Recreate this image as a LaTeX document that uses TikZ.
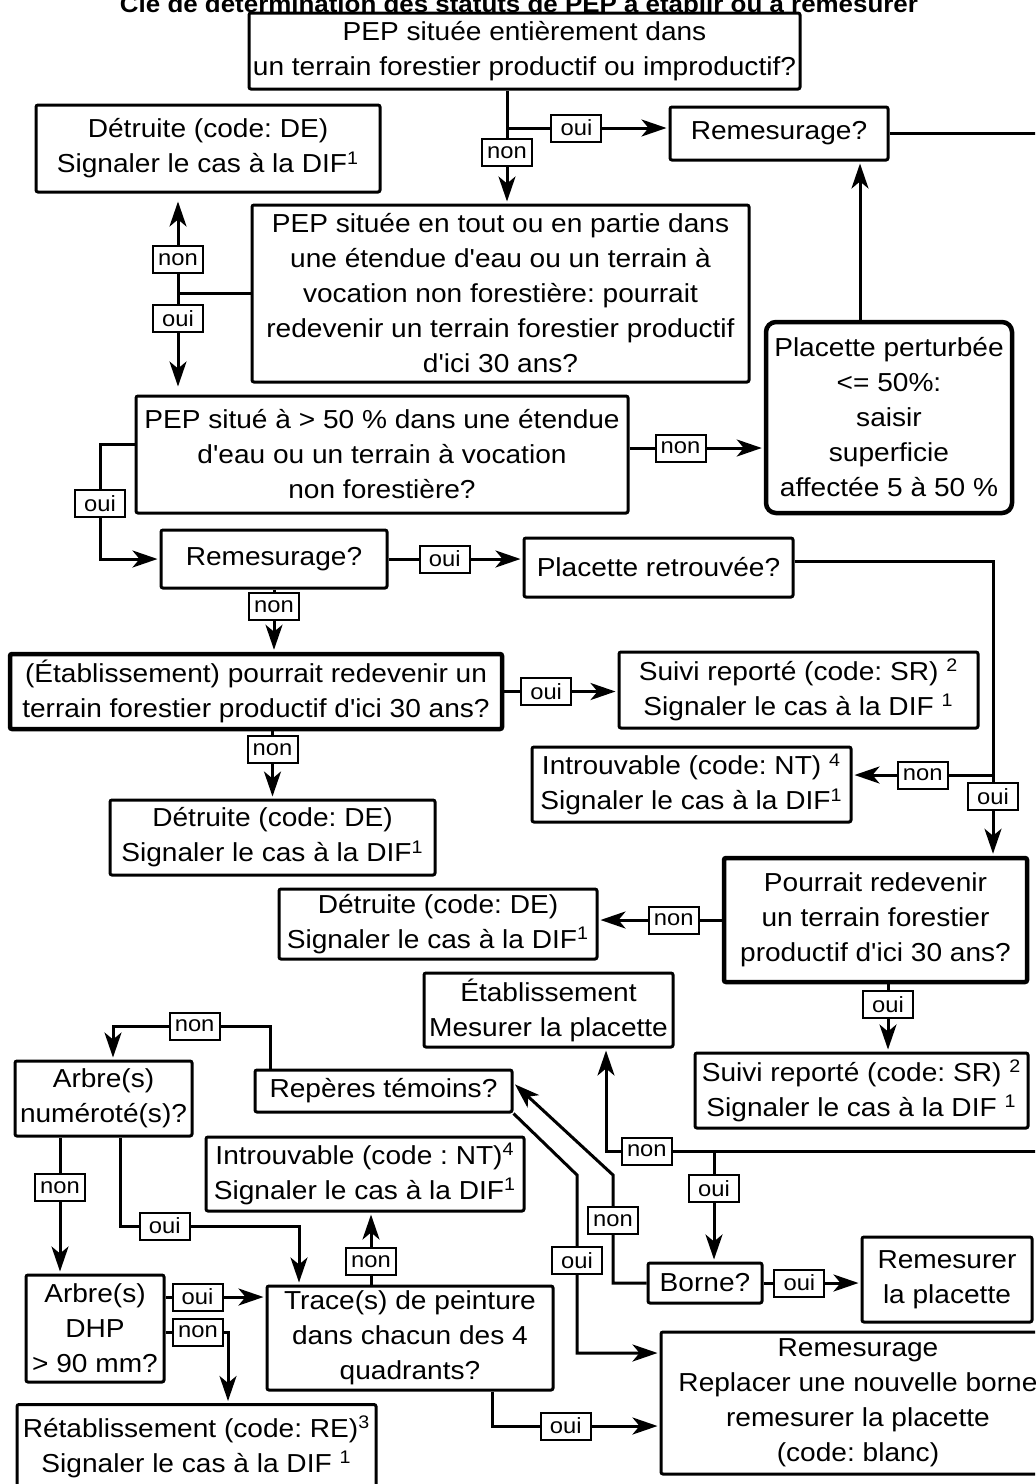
\documentclass[tikz,border=0pt]{standalone}
\usepackage{fontspec}
\setmainfont{Liberation Sans}[Ligatures=TeXOff, FakeStretch=1.08]
\usetikzlibrary{arrows.meta}
\frenchspacing

\begin{document}
\begin{tikzpicture}[
        x = 0.5pt, y = -0.5pt,
        box/.style = {
            draw,
            line width = 1.5pt,
            rounded corners = 1pt,
            align = center,
            inner sep = 0pt,
            font = \fontsize{13}{17.5}\selectfont
        },
        heavy/.style = {box, line width = 2.25pt},
        wh/.style 2 args = {minimum width = #1*0.5pt, minimum height = #2*0.5pt},
        lab/.style = {
            draw,
            fill = white,
            line width = 1pt,
            inner sep = 0pt,
            minimum width = 25pt,
            minimum height = 13.5pt,
            font = \fontsize{11}{12}\selectfont
        },
        wire/.style = {line width = 1.5pt},
        arr/.style = {wire, -{Stealth[length=12.5pt, width=8.5pt, inset=3.5pt]}, shorten >= 1pt}
    ]
    \useasboundingbox (0,0) rectangle (1035,1484);
    \clip (0,0) rectangle (1035,1484);

    \node[anchor=base, font=\fontsize{12}{14}\selectfont\bfseries] (title) at (519,12)
        {Clé de détermination des statuts de PEP à établir ou à remesurer};

    % boxes
    \node[box, wh={551}{76}] (n1) at (524.5,51) {PEP située entièrement dans\\un terrain forestier productif ou improductif?};
    \node[box, wh={218}{53}] (remes1) at (779,133.5) {Remesurage?};
    \node[box, wh={344}{87}] (de1) at (208,148.5) {Détruite (code: DE)\\Signaler le cas à la DIF\textsuperscript{1}};
    \node[box, wh={497}{177}] (eau) at (500.5,293.5) {PEP située en tout ou en partie dans\\une étendue d'eau ou un terrain à\\vocation non forestière: pourrait\\redevenir un terrain forestier productif\\d'ici 30 ans?};
    \node[box, wh={492}{117}] (half) at (382,454.5) {PEP situé à > 50 \% dans une étendue\\d'eau ou un terrain à vocation\\non forestière?};
    \node[heavy, rounded corners=5pt, wh={246}{191}] (pert) at (889,417.5) {Placette perturbée\\<= 50\%:\\saisir\\superficie\\affectée 5 à 50 \%};
    \node[box, wh={226}{58}] (remes2) at (274,559) {Remesurage?};
    \node[box, wh={269}{59}] (retr) at (658.5,567.5) {Placette retrouvée?};
    \node[heavy, wh={492}{75}] (etab) at (256,691.5) {(Établissement) pourrait redevenir un\\terrain forestier productif d'ici 30 ans?};
    \node[box, wh={359}{76}] (sr1) at (798.5,690) {Suivi reporté (code: SR) \textsuperscript{2}\\Signaler le cas à la DIF \textsuperscript{1}};
    \node[box, wh={319}{75}] (nt1) at (691.5,784.5) {Introuvable (code: NT) \textsuperscript{4}\\Signaler le cas à la DIF\textsuperscript{1}};
    \node[box, wh={325}{75}] (de2) at (272.5,837.5) {Détruite (code: DE)\\Signaler le cas à la DIF\textsuperscript{1}};
    \node[heavy, wh={303}{124}] (pourr) at (875.5,920) {Pourrait redevenir\\un terrain forestier\\productif d'ici 30 ans?};
    \node[box, wh={318}{70}] (de3) at (438,924) {Détruite (code: DE)\\Signaler le cas à la DIF\textsuperscript{1}};
    \node[box, wh={249}{74}] (mes) at (548.5,1010) {Établissement\\Mesurer la placette};
    \node[box, wh={333}{75}] (sr2) at (861.5,1090.5) {Suivi reporté (code: SR) \textsuperscript{2}\\Signaler le cas à la DIF \textsuperscript{1}};
    \node[box, wh={177}{75}] (arbre) at (103.5,1098.5) {Arbre(s)\\numéroté(s)?};
    \node[box, wh={257}{42}] (rep) at (383.5,1091) {Repères témoins?};
    \node[box, wh={318}{74}] (nt2) at (365,1174) {Introuvable (code : NT)\textsuperscript{4}\\Signaler le cas à la DIF\textsuperscript{1}};
    \node[box, wh={138}{107}] (dhp) at (95,1328.5) {Arbre(s)\\DHP\\> 90 mm?};
    \node[box, wh={286}{104}] (trace) at (410,1338) {Trace(s) de peinture\\dans chacun des 4\\quadrants?};
    \node[box, wh={114}{40}] (borne) at (705,1283) {Borne?};
    \node[box, wh={170}{85}] (remesurer) at (947,1279.5) {Remesurer\\la placette};
    \node[box, wh={394}{142}] (remesfin) at (858,1403) {Remesurage\\Replacer une nouvelle borne\\remesurer la placette\\(code: blanc)};
    \node[box, wh={359}{85}] (retab) at (196.5,1447) {Rétablissement (code: RE)\textsuperscript{3}\\Signaler le cas à la DIF \textsuperscript{1}};

    % connectors
    \coordinate (j1) at (507,128);
    \draw[arr] (n1.south -| j1) -- node[lab, pos=0.55] {non} (eau.north -| j1);
    \draw[arr] (j1) -- node[lab, pos=0.43] {oui} (j1 -| remes1.west);
    \coordinate (e1) at (1045,133.5);
    \draw[wire] (remes1.east) -- (e1);

    \coordinate (k4) at (860,240);
    \draw[arr] (pert.north -| k4) -- (remes1.south -| k4);

    \coordinate (j3) at (178,293.5);
    \draw[wire] (eau.west) -- (j3);
    \draw[arr, shorten >= 4pt] (j3) -- node[lab, pos=0.34] {non} (de1.south -| j3);
    \draw[arr, shorten >= 4pt] (j3) -- node[lab, pos=0.25] {oui} (half.north -| j3);

    \coordinate (j4) at (100,444);
    \draw[arr] (half.west |- j4) -- (j4) |- node[lab, pos=0.26] {oui} (remes2.west);
    \coordinate (j5) at (700,448);
    \draw[arr] (half.east |- j5) -- node[lab, pos=0.38] {non} (pert.west |- j5);

    \draw[arr] (remes2.east) -- node[lab, pos=0.42] {oui} (remes2.east -| retr.west);
    \draw[arr] (remes2.south) -- node[lab, pos=0.27] {non} (remes2.south |- etab.north);
    \draw[arr] (etab.east) -- node[lab, pos=0.37] {oui} (etab.east -| sr1.west);
    \draw[arr] (de2.north |- etab.south) -- node[lab, pos=0.27] {non} (de2.north);

    \coordinate (j6a) at (993,561.5);
    \coordinate (j6) at (993,775);
    \draw[arr] (retr.east |- j6a) -- (j6a) -- node[lab, pos=0.8] {oui} (pourr.north -| j6);
    \draw[arr] (j6) -- node[lab, pos=0.5] {non} (nt1.east |- j6);

    \draw[arr] (pourr.west) -- node[lab, pos=0.39] {non} (pourr.west -| de3.east);
    \coordinate (j7) at (888,1000);
    \draw[arr] (pourr.south -| j7) -- node[lab, pos=0.3] {oui} (sr2.north -| j7);

    \coordinate (e2) at (1045,1151);
    \coordinate (j8) at (606,1151);
    \coordinate (j9) at (714,1151);
    \draw[arr] (e2) -- node[lab, pos=0.907] {non} (j8) -- (mes.south -| j8);
    \draw[arr] (j9) -- node[lab, pos=0.34] {oui} (borne.north -| j9);
    \draw[arr] (borne.east) -- node[lab, pos=0.37] {oui} (borne.east -| remesurer.west);

    \coordinate (j10) at (613,1175);
    \coordinate (j10b) at (600,1083);
    \draw[arr] (borne.west) -| node[lab, pos=0.79] {non} (j10) -- (rep.east |- j10b);

    \coordinate (j11) at (577,1175);
    \coordinate (j12) at (600,1353);
    \draw[arr] (rep.south east) -- (j11) |- node[lab, pos=0.24] {oui} (remesfin.west |- j12);

    \coordinate (j13) at (492,1426);
    \draw[arr] (trace.south -| j13) |- node[lab, pos=0.72] {oui} (remesfin.west |- j13);

    \coordinate (j14) at (270,1026);
    \coordinate (j15) at (113,1026);
    \draw[arr] (rep.north -| j14) -- (j14) -- node[lab, pos=0.48] {non} (j15) -- (arbre.north -| j15);

    \coordinate (j16) at (60,1200);
    \draw[arr] (arbre.south -| j16) -- node[lab, pos=0.37] {non} (dhp.north -| j16);

    \coordinate (j17) at (120,1226);
    \coordinate (j18) at (299,1226);
    \draw[arr] (arbre.south -| j17) -- (j17) -- node[lab, pos=0.25] {oui} (j18) -- (trace.north -| j18);

    \coordinate (j21) at (200,1297);
    \coordinate (j19) at (228,1332);
    \draw[arr] (dhp.east |- j21) -- node[lab, pos=0.32] {oui} (trace.west |- j21);
    \draw[arr] (dhp.east |- j19) -- node[lab, pos=0.52] {non} (j19) -- (retab.north -| j19);

    \coordinate (j20) at (371,1250);
    \draw[arr] (trace.north -| j20) -- node[lab, pos=0.32] {non} (nt2.south -| j20);

\end{tikzpicture}
\end{document}
